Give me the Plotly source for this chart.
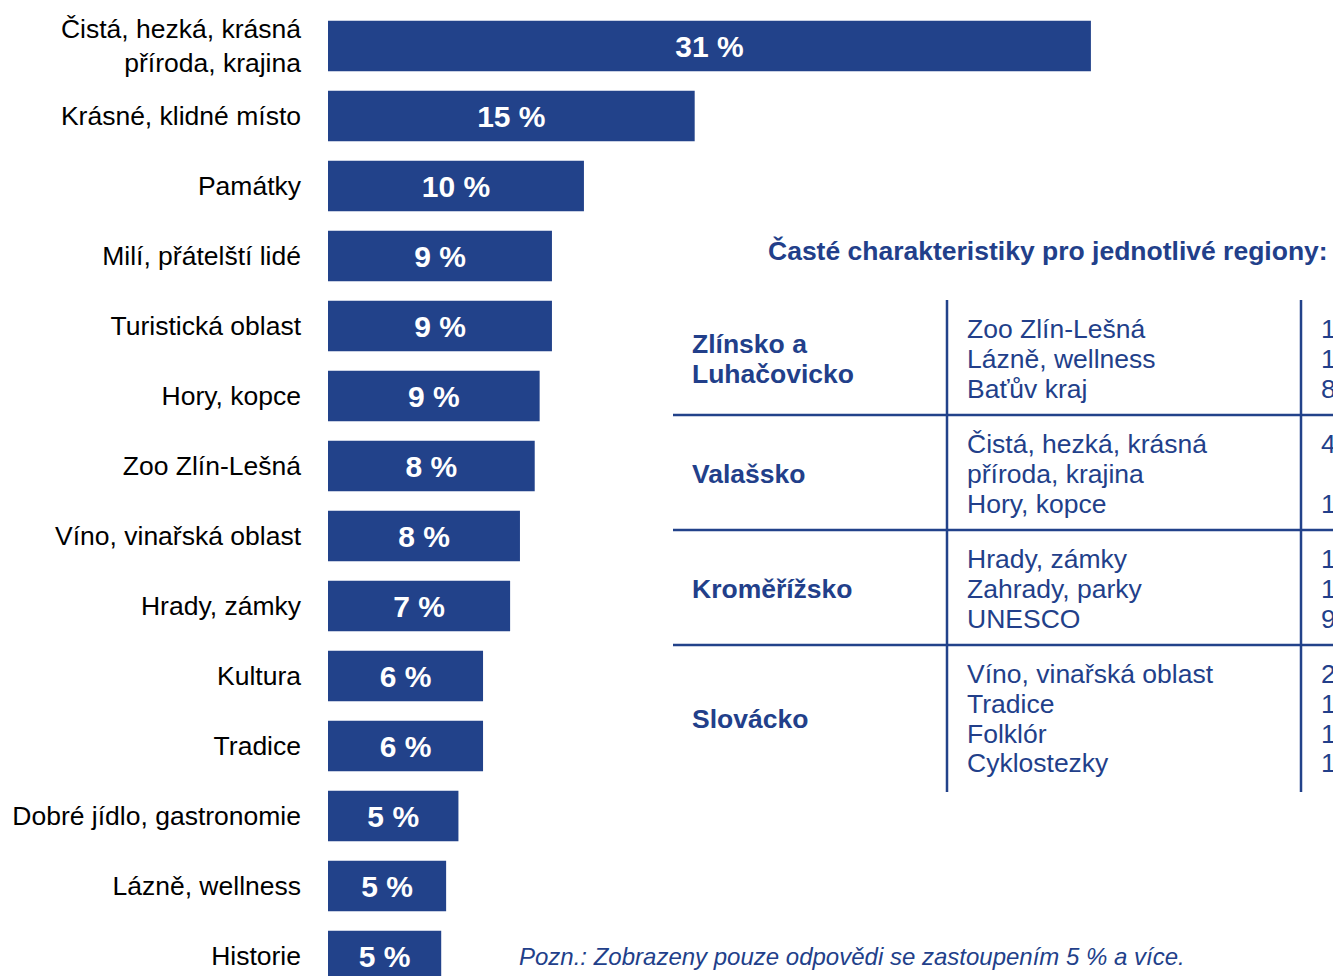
import plotly.graph_objects as go

# ---------------- data ----------------
categories = [
    "Čistá, hezká, krásná<br>příroda, krajina",
    "Krásné, klidné místo",
    "Památky",
    "Milí, přátelští lidé",
    "Turistická oblast",
    "Hory, kopce",
    "Zoo Zlín-Lešná",
    "Víno, vinařská oblast",
    "Hrady, zámky",
    "Kultura",
    "Tradice",
    "Dobré jídlo, gastronomie",
    "Lázně, wellness",
    "Historie",
]
values = [31.0, 14.9, 10.4, 9.1, 9.1, 8.6, 8.4, 7.8, 7.4, 6.3, 6.3, 5.3, 4.8, 4.6]
bar_labels = [f"{round(v)} %" for v in values]

table_title = "Časté charakteristiky pro jednotlivé regiony:"
regions = [["Zlínsko a", "Luhačovicko"], ["Valašsko"], ["Kroměřížsko"], ["Slovácko"]]
region_items = [
    ["Zoo Zlín-Lešná", "Lázně, wellness", "Baťův kraj"],
    ["Čistá, hezká, krásná", "příroda, krajina", "Hory, kopce"],
    ["Hrady, zámky", "Zahrady, parky", "UNESCO"],
    ["Víno, vinařská oblast", "Tradice", "Folklór", "Cyklostezky"],
]
# third column is cut off at the right edge of the picture; only first characters visible
region_values_visible = [["1", "1", "8"], ["4", "", "1"], ["1", "1", "9"], ["2", "1", "1", "1"]]
note = "Pozn.: Zobrazeny pouze odpovědi se zastoupením 5 % a více."

# ---------------- style ----------------
W, H = 1333, 976
L = 328
BLUE = "#22428A"
TXT_BLUE = "#223F8A"
FONT = "Liberation Sans, Arial, sans-serif"
FS = 26.5


def px(x):
    return (x - L) / (W - L)


def py(y):
    return 1 - y / H


fig = go.Figure(
    go.Bar(
        y=categories,
        x=values,
        orientation="h",
        width=0.72,
        marker=dict(color=BLUE, line=dict(width=0)),
        text=bar_labels,
        textposition="inside",
        insidetextanchor="middle",
        constraintext="none",
        textfont=dict(family=FONT, size=30, color="white", weight="bold"),
        hoverinfo="skip",
    )
)

fig.update_layout(
    width=W,
    height=H,
    margin=dict(l=L, r=0, t=0, b=0, pad=0),
    paper_bgcolor="white",
    plot_bgcolor="white",
    showlegend=False,
    xaxis=dict(range=[0, (W - L) / 24.61], visible=False, fixedrange=True),
    yaxis=dict(
        categoryorder="array",
        categoryarray=categories,
        range=[(H - 46) / 70, -46 / 70],
        showgrid=False,
        zeroline=False,
        showline=False,
        ticks="",
        ticklabelstandoff=26,
        tickfont=dict(family=FONT, size=FS, color="#000000"),
        fixedrange=True,
    ),
)

annotations = []
shapes = []

# title of the table
annotations.append(dict(
    x=px(1330), y=py(251), xref="paper", yref="paper", xanchor="right", yanchor="middle",
    text=f"<b>{table_title}</b>", showarrow=False,
    font=dict(family=FONT, size=FS, color=TXT_BLUE),
))

row_tops = [300, 415, 530, 645]
table_bottom = 792
LINE = 29.8
for r, items in enumerate(region_items):
    top = row_tops[r]
    first = top + 29
    for k, item in enumerate(items):
        yy = first + LINE * k
        annotations.append(dict(
            x=px(965), y=py(yy), xref="paper", yref="paper", xanchor="left", yanchor="middle",
            text=item, showarrow=False, font=dict(family=FONT, size=FS, color=TXT_BLUE),
        ))
        v = region_values_visible[r][k]
        if v:
            annotations.append(dict(
                x=px(1319), y=py(yy), xref="paper", yref="paper", xanchor="left", yanchor="middle",
                text=v, showarrow=False, font=dict(family=FONT, size=FS, color=TXT_BLUE),
            ))
    center = first + LINE * (len(items) - 1) / 2
    names = regions[r]
    for j, nm in enumerate(names):
        yy = center + LINE * (j - (len(names) - 1) / 2)
        annotations.append(dict(
            x=px(690), y=py(yy), xref="paper", yref="paper", xanchor="left", yanchor="middle",
            text=f"<b>{nm}</b>", showarrow=False, font=dict(family=FONT, size=FS, color=TXT_BLUE),
        ))

# table lines
for yy in row_tops[1:]:
    shapes.append(dict(type="line", xref="paper", yref="paper",
                       x0=px(673), x1=px(W + 5), y0=py(yy), y1=py(yy),
                       line=dict(color=BLUE, width=2.5)))
for xx in [947, 1301]:
    shapes.append(dict(type="line", xref="paper", yref="paper",
                       x0=px(xx), x1=px(xx), y0=py(row_tops[0]), y1=py(table_bottom),
                       line=dict(color=BLUE, width=2.5)))

# note
annotations.append(dict(
    x=px(517), y=py(956), xref="paper", yref="paper", xanchor="left", yanchor="middle",
    text=f"<i>{note}</i>", showarrow=False, font=dict(family=FONT, size=24, color=TXT_BLUE),
))

fig.update_layout(annotations=annotations, shapes=shapes)

fig.write_html(
    "out.html",
    config={"displayModeBar": False, "staticPlot": True},
    post_script="document.body.style.margin='0';document.body.style.overflow='hidden';",
)
